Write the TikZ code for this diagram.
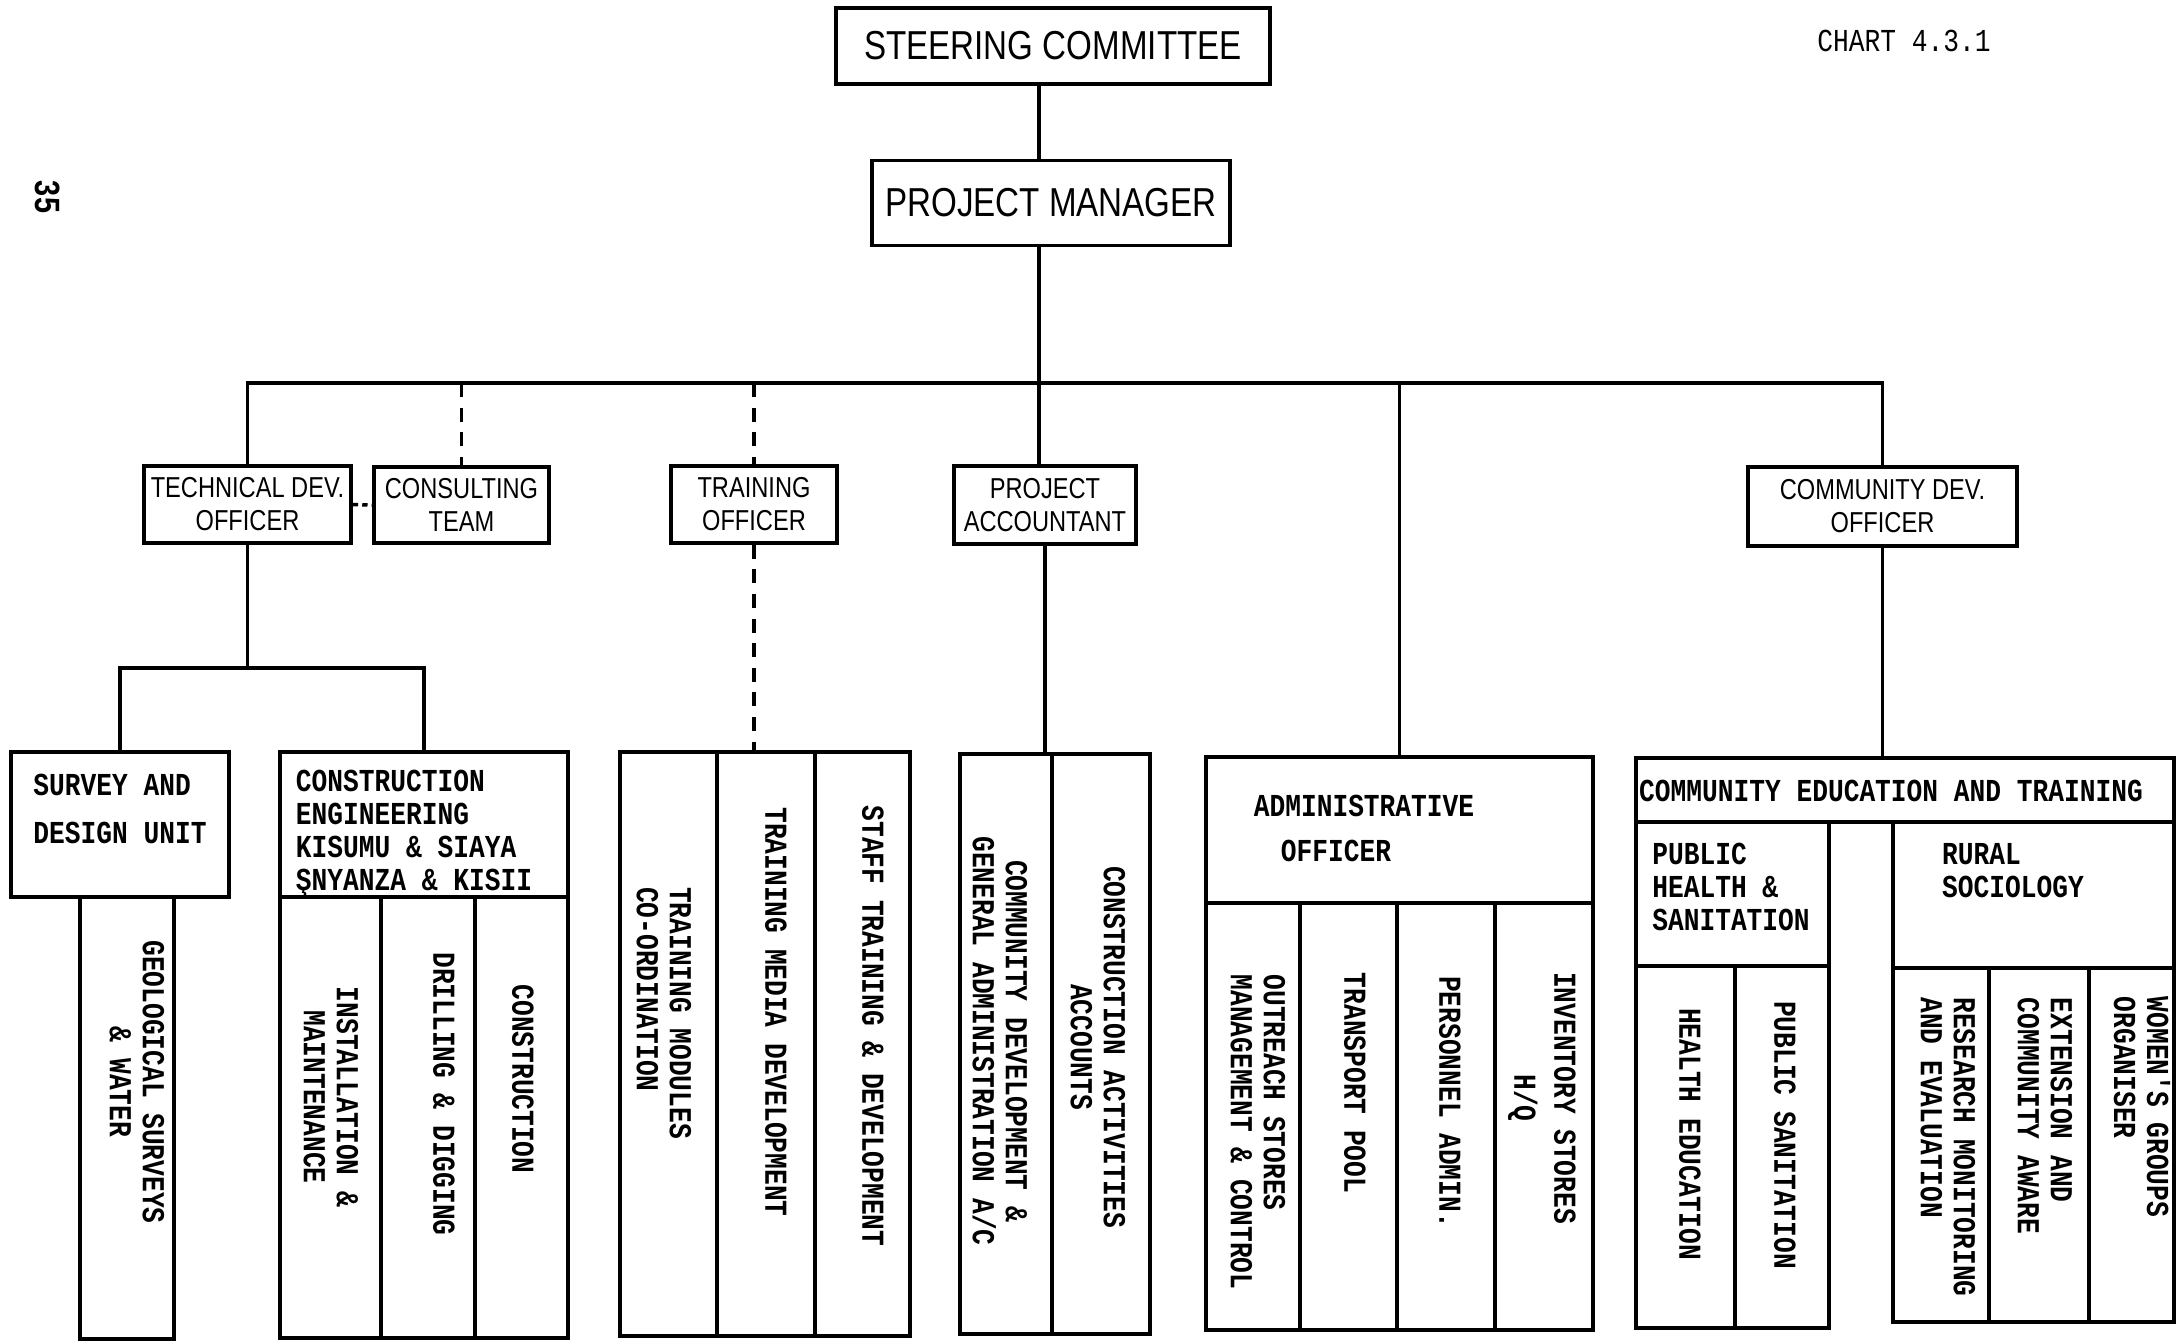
\documentclass[tikz,border=0pt]{standalone}
\usepackage{fontspec}
\usepackage{tikz}
\usetikzlibrary{fit}
\newfontfamily\lettering[FakeStretch=0.82]{Liberation Sans}
\newfontfamily\typer[FakeStretch=0.82]{Liberation Mono}
\newcommand{\chartfont}{\typer\fontsize{9.1pt}{9.4pt}\selectfont}
\tikzset{
  post/.style={draw, line width=1pt, inner sep=0pt, align=center,
    font=\lettering\fontsize{8.2pt}{9.4pt}\selectfont},
  chief/.style={post, font=\lettering\fontsize{11.5pt}{12pt}\selectfont},
  unit/.style={draw, line width=1.1pt, inner sep=0pt},
  typed/.style={inner sep=0pt, align=left, font=\chartfont\bfseries},
  coltext/.style={typed, rotate=-90},
  link/.style={line width=1pt},
  staffline/.style={link, dash pattern=on 4pt off 3pt},
}

\begin{document}
\begin{tikzpicture}[x=0.1mm, y=-0.1mm]
        \useasboundingbox (0,0) rectangle (2177,1340);

        \node[rotate=-90, inner sep=0pt, font=\lettering\bfseries\fontsize{10pt}{10pt}\selectfont] (pageno) at (48,197) {35};
        \node[inner sep=0pt, font=\chartfont] (chart) at (1904,41) {CHART 4.3.1};

        % Top of the chart
        \node[chief, minimum width=43.4mm, minimum height=7.6mm] (sc) at (1053,46) {STEERING COMMITTEE};
        \node[chief, minimum width=35.8mm, minimum height=8.5mm] (pm) at (1051,203) {PROJECT MANAGER};

        % Officers
        \node[post, minimum width=20.7mm, minimum height=7.7mm] (tdo) at (247.5,504.5) {TECHNICAL DEV.\\OFFICER};
        \node[post, minimum width=17.5mm, minimum height=7.6mm] (ct) at (461.5,505) {CONSULTING\\TEAM};
        \node[post, minimum width=16.6mm, minimum height=7.7mm] (to) at (754,504.5) {TRAINING\\OFFICER};
        \node[post, minimum width=18.2mm, minimum height=7.8mm] (pa) at (1045,505) {PROJECT\\ACCOUNTANT};
        \node[post, minimum width=26.9mm, minimum height=7.9mm] (cdo) at (1882.5,506.5) {COMMUNITY DEV.\\OFFICER};

        \coordinate (bus) at (0,383);
        \coordinate (spine) at (1039,0);
        \coordinate (tsplit) at (248,668);

        % Technical units
        \node[unit, fit={(11,752) (229,897)}] (survey) {};
        \node[unit, fit={(80,897) (174,1339)}] (geo) {};
        \node[unit, fit={(280,752) (568,897)}] (ceng) {};
        \node[unit, fit={(280,897) (381,1338)}] (inst) {};
        \node[unit, fit={(381,897) (475,1338)}] (drill) {};
        \node[unit, fit={(475,897) (568,1338)}] (cons) {};

        % Training units
        \node[unit, fit={(620,752) (717,1336)}] (tmod) {};
        \node[unit, fit={(717,752) (815,1336)}] (tmed) {};
        \node[unit, fit={(815,752) (910,1336)}] (staff) {};

        % Accounts
        \node[unit, fit={(960,754) (1052,1334)}] (cdev) {};
        \node[unit, fit={(1052,754) (1150,1334)}] (cact) {};

        % Administration
        \node[unit, fit={(1206,757) (1593,903)}] (admin) {};
        \node[unit, fit={(1206,903) (1300,1330)}] (outr) {};
        \node[unit, fit={(1300,903) (1397,1330)}] (trp) {};
        \node[unit, fit={(1397,903) (1495,1330)}] (pers) {};
        \node[unit, fit={(1495,903) (1593,1330)}] (inv) {};

        % Community education
        \node[unit, fit={(1636,758) (2174,822)}] (ced) {};
        \node[unit, fit={(1636,822) (1829,966)}] (phs) {};
        \node[unit, fit={(1636,966) (1735,1328)}] (hed) {};
        \node[unit, fit={(1735,966) (1829,1328)}] (psan) {};
        \node[unit, fit={(1893,822) (2174,968)}] (rural) {};
        \node[unit, fit={(1893,968) (1989,1322)}] (res) {};
        \node[unit, fit={(1989,968) (2089,1322)}] (ext) {};
        \node[unit, fit={(2089,968) (2174,1322)}] (wom) {};

        % Lines of command
        \draw[link] (spine |- sc.south) -- (spine |- pm.north);
        \draw[link] (spine |- pm.south) -- (spine |- pa.north);
        \draw[link] (tdo.north) |- (cdo.north |- bus) -- (cdo.north);
        \draw[staffline] (ct.north |- bus) -- (ct.north);
        \draw[staffline] (to.north |- bus) -- (to.north);
        \draw[staffline] (to.south) -- (to.south |- tmed.north);
        \draw[link] (admin.north |- bus) -- (admin.north);
        \draw[link, dash pattern=on 1.5pt off 1.2pt] (tdo.east) -- (ct.west);
        \draw[link] (tdo.south) -- (tdo.south |- tsplit);
        \draw[link] (survey.north) |- (tsplit) -| (ceng.north);
        \draw[link] (pa.south) -- (pa.south |- cdev.north);
        \draw[link] (cdo.south) -- (cdo.south |- ced.north);

        % Unit headings
        \node[typed] (surveyT) at (120,809) {SURVEY AND\\[4.3pt]DESIGN UNIT};
        \node[typed] (cengT) at (414,834) {CONSTRUCTION\\ENGINEERING\\KISUMU \& SIAYA\\ŞNYANZA \& KISII};
        \node[typed] (adminT) at (1364,828) {ADMINISTRATIVE\\[3.4pt]\hspace*{2.7mm}OFFICER};
        \node[typed] (cedT) at (1891,791) {COMMUNITY EDUCATION AND TRAINING};
        \node[typed] (phsT) at (1731,887) {PUBLIC\\HEALTH \&\\SANITATION};
        \node[typed] (ruralT) at (2013,871) {RURAL\\SOCIOLOGY};

        % Sections
        \node[coltext, align=center] (geoT) at (137,1082) {GEOLOGICAL SURVEYS\\\& WATER};
        \node[coltext, align=center] (instT) at (331,1097) {INSTALLATION \&\\MAINTENANCE};
        \node[coltext] (drillT) at (444,1094) {DRILLING \& DIGGING};
        \node[coltext] (consT) at (523,1079) {CONSTRUCTION};
        \node[coltext] (tmodT) at (664,1013) {TRAINING MODULES\\CO-ORDINATION};
        \node[coltext] (tmedT) at (776,1012) {TRAINING MEDIA DEVELOPMENT};
        \node[coltext] (staffT) at (873,1026) {STAFF TRAINING \& DEVELOPMENT};
        \node[coltext, align=center] (cdevT) at (1000,1041) {COMMUNITY DEVELOPMENT \&\\GENERAL ADMINISTRATION A/C};
        \node[coltext, align=center] (cactT) at (1098,1047) {CONSTRUCTION ACTIVITIES\\ACCOUNTS};
        \node[coltext] (outrT) at (1258,1132) {OUTREACH STORES\\MANAGEMENT \& CONTROL};
        \node[coltext] (trpT) at (1355,1083) {TRANSPORT POOL};
        \node[coltext] (persT) at (1450,1102) {PERSONNEL ADMIN.};
        \node[coltext, align=center] (invT) at (1542,1098) {INVENTORY STORES\\[2pt]H/Q};
        \node[coltext] (hedT) at (1690,1134) {HEALTH EDUCATION};
        \node[coltext] (psanT) at (1785,1135) {PUBLIC SANITATION};
        \node[coltext] (resT) at (1948,1147) {RESEARCH MONITORING\\AND EVALUATION};
        \node[coltext] (extT) at (2045,1116) {EXTENSION AND\\COMMUNITY AWARE};
        \node[coltext] (womT) at (2142,1107) {WOMEN'S GROUPS\\ORGANISER};
      \end{tikzpicture}
\end{document}
